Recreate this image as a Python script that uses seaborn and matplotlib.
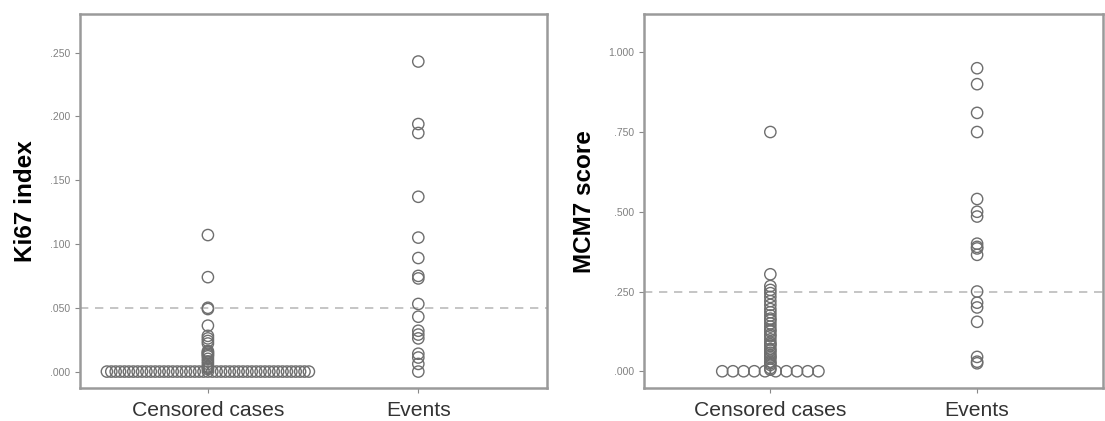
import numpy as np
import pandas as pd
import matplotlib
matplotlib.use("Agg")
import matplotlib.pyplot as plt
import seaborn as sns

# Groups on the x axis
groups = ["Censored cases", "Events"]

# Ki67 index values (left panel)
ki67_censored_zero_count = 47
ki67_censored = [0.107, 0.074, 0.050, 0.049, 0.036, 0.028, 0.026, 0.024, 0.022,
                 0.016, 0.015, 0.014, 0.013, 0.012, 0.010, 0.008, 0.006, 0.004,
                 0.003, 0.002]
ki67_events = [0.243, 0.194, 0.187, 0.137, 0.105, 0.089, 0.075, 0.073, 0.053,
               0.043, 0.032, 0.029, 0.026, 0.014, 0.011, 0.006, 0.000]
ki67_cutoff = 0.050
ki67_ticks = [0.0, 0.05, 0.10, 0.15, 0.20, 0.25]
ki67_ticklabels = [".000", ".050", ".100", ".150", ".200", ".250"]

# MCM7 score values (right panel)
mcm7_censored_zero_count = 10
mcm7_censored = [0.750, 0.304, 0.267, 0.255, 0.245, 0.233, 0.220, 0.208, 0.195,
                 0.185, 0.175, 0.165, 0.160, 0.150, 0.140, 0.130, 0.125, 0.115,
                 0.110, 0.100, 0.090, 0.085, 0.080, 0.070, 0.065, 0.058, 0.050,
                 0.045, 0.040, 0.030, 0.025, 0.020, 0.010, 0.005]
mcm7_events = [0.950, 0.900, 0.810, 0.750, 0.540, 0.500, 0.485, 0.400, 0.390,
               0.385, 0.365, 0.250, 0.215, 0.200, 0.155, 0.045, 0.030, 0.025]
mcm7_cutoff = 0.250
mcm7_ticks = [0.0, 0.25, 0.50, 0.75, 1.0]
mcm7_ticklabels = [".000", ".250", ".500", ".750", "1.000"]


def build_frame(zero_count, censored, events):
    df = pd.DataFrame({
        "group": [groups[0]] * (zero_count + len(censored)) + [groups[1]] * len(events),
        "value": [0.0] * zero_count + censored + events,
    })
    df["gx"] = df["group"].map({g: i for i, g in enumerate(groups)}).astype(float)
    return df


def spread_ties(df, step_max, width_max):
    # SPSS style: identical values are laid side by side
    df = df.copy()
    for (_, _), idx in df.groupby(["group", "value"]).groups.items():
        n = len(idx)
        if n > 1:
            step = min(step_max, width_max / (n - 1))
            df.loc[idx, "gx"] += (np.arange(n) - (n - 1) / 2) * step
    return df


sns.set_style("white")
plt.rcParams["font.family"] = ["Liberation Sans", "DejaVu Sans"]

fig = plt.figure(figsize=(11.05, 4.21), dpi=100)
ax1 = fig.add_axes([0.072, 0.078, 0.4227, 0.888])
ax2 = fig.add_axes([0.583, 0.078, 0.4154, 0.888])

panels = [
    (ax1, build_frame(ki67_censored_zero_count, ki67_censored, ki67_events),
     ki67_cutoff, ki67_ticks, ki67_ticklabels, (-0.013, 0.28), "Ki67 index"),
    (ax2, build_frame(mcm7_censored_zero_count, mcm7_censored, mcm7_events),
     mcm7_cutoff, mcm7_ticks, mcm7_ticklabels, (-0.053, 1.119), "MCM7 score"),
]

for ax, df, cutoff, ticks, ticklabels, ylim, ylabel in panels:
    df = spread_ties(df, 0.0517, 0.96)
    ax.axhline(cutoff, color="#bbbbbb", lw=1.2, ls=(0, (5, 4)), zorder=1)
    sns.scatterplot(data=df, x="gx", y="value", ax=ax, marker="o", s=66,
                    facecolor="none", edgecolor="#6e6e6e", linewidth=1.0,
                    zorder=3, legend=False)
    ax.set_xlim(-0.61, 1.61)
    ax.set_ylim(*ylim)
    ax.set_xticks(range(len(groups)))
    ax.set_xticklabels(groups, fontsize=15.2, color="#333333")
    ax.set_yticks(ticks)
    ax.set_yticklabels(ticklabels, fontsize=7.5, color="#808080")
    ax.set_xlabel("")
    ax.set_ylabel(ylabel, fontsize=17.5, fontweight="bold", color="black", labelpad=9)
    ax.tick_params(axis="both", direction="out", length=3.5, width=0.8,
                   color="#888888", left=True, bottom=True)
    ax.tick_params(axis="x", pad=6)
    for sp in ax.spines.values():
        sp.set_color("#9a9a9a")
        sp.set_linewidth(1.8)

fig.savefig("out.png", dpi=100)
